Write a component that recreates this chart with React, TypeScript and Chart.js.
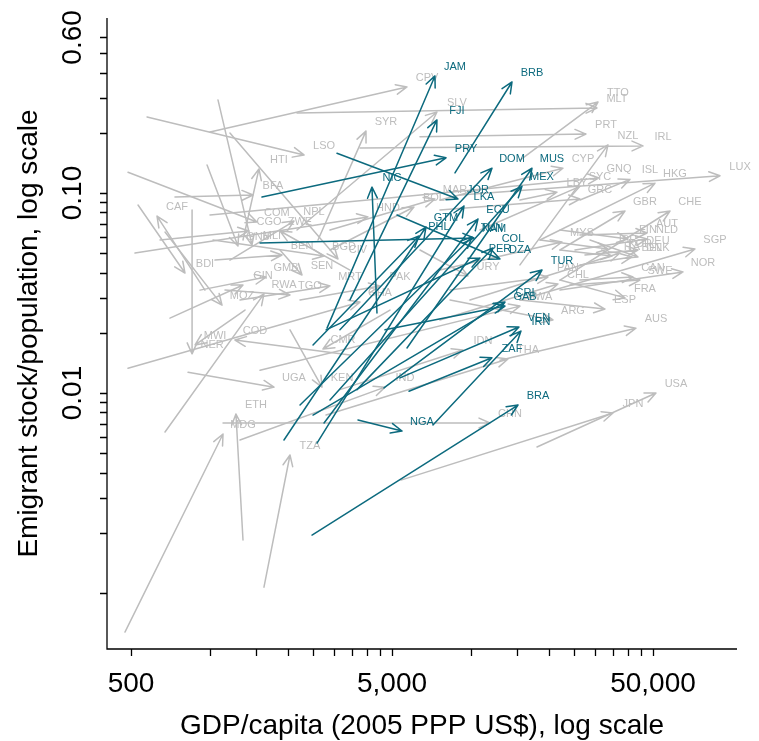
import React, { useEffect, useRef } from 'react';
import { Chart, registerables } from 'chart.js';

Chart.register(...registerables);

// ---- Highlighted (teal) countries ----
const tealCodes = ['JAM','BRB','FJI','PRY','NIC','DOM','MUS','MEX','JOR','LKA','ECU','GTM','PHL','TUN','NAM','COL','PER','DZA','TUR','CRI','GAB','VEN','IRN','ZAF','NGA','BRA'];
const tealGdpFrom = [2818, 8714, 3451, 1588, 4379, 3159, 5707, 2893, 3077, 2580, 2745, 1928, 2491, 2221, 1561, 3672, 2794, 5224, 4658, 2491, 4700, 5364, 7177, 5808, 3704, 2469];
const tealGdpTo = [7304, 14412, 7434, 8052, 4190, 12078, 17189, 15738, 8948, 9435, 10674, 6748, 6343, 10124, 10304, 12185, 10864, 12963, 18774, 13548, 13548, 15327, 15600, 12078, 5461, 15193];
const tealEmigFrom = [0.0211, 0.126, 0.0292, 0.0955, 0.0251, 0.0207, 0.0168, 0.00923, 0.158, 0.00562, 0.00708, 0.00582, 0.0174, 0.00871, 0.0562, 0.0104, 0.0207, 0.0776, 0.0106, 0.00776, 0.0207, 0.0119, 0.00692, 0.0102, 0.00733, 0.00195];
const tealEmigTo = [0.385, 0.359, 0.232, 0.150, 0.107, 0.133, 0.133, 0.108, 0.0933, 0.0861, 0.0741, 0.0676, 0.0610, 0.0603, 0.0596, 0.0531, 0.0473, 0.0468, 0.0412, 0.0285, 0.0272, 0.0214, 0.0204, 0.0150, 0.00646, 0.00871];

// ---- Other (gray) countries ----
const grayCodes = ['CPV','SLV','TTO','MLT','SYR','PRT','NZL','IRL','LSO','HTI','CYP','GNQ','ISL','HKG','SYC','LUX','LBY','GRC','BFA','MAR','BOL','GBR','CHE','CAF','COM','NPL','CGO','ZWE','GNB','MLI','BEN','BGD','CIV','BDI','SGP','MYS','FIN','AUT','NLD','DEU','DNK','BEL','ITA','ISR','KOR','CAN','SWE','NOR','FRA','ESP','ARG','AUS','CHL','PAN','URY','BWA','THA','IDN','CHN','JPN','USA','UGA','KEN','IND','CMR','COD','MWI','NER','MOZ','GMB','SEN','GIN','RWA','TGO','MRT','PAK','GHA','HND','ETH','MDG','TZA'];
const grayGdpFrom = [1004, 2163, 15463, 2163, 2603, 6400, 15463, 3770, 576, 1343, 7633, 1004, 26252, 18447, 10864, 9107, 15463, 7633, 737, 2893, 2893, 22008, 22008, 960, 487, 1197, 646, 3451, 978, 1077, 1049, 1031, 1197, 532, 15463, 7633, 22008, 26252, 25119, 27438, 28673, 26252, 22008, 18447, 9947, 26252, 24038, 22008, 22008, 15463, 8341, 12963, 7633, 8341, 6400, 1561, 2794, 3159, 1126, 5412, 17965, 827, 2033, 1308, 4912, 3451, 1367, 857, 675, 919, 1861, 705, 675, 1146, 1308, 2221, 487, 518, 1343, 474, 1616];
const grayGdpTo = [5707, 7434, 30771, 30501, 3974, 27682, 33609, 45767, 2301, 1546, 22596, 31045, 40804, 50880, 26252, 90302, 21432, 26252, 1467, 7304, 6069, 39040, 58076, 629, 1519, 2106, 1416, 1861, 1285, 1454, 1895, 2745, 3104, 805, 72394, 22399, 40088, 47417, 47417, 43789, 43789, 41532, 34816, 33609, 37358, 41902, 44571, 65146, 39040, 32734, 20690, 43022, 21622, 19794, 9773, 15463, 13912, 9352, 11867, 35127, 51329, 1766, 2697, 4700, 2720, 1251, 880, 857, 1116, 1645, 2260, 1343, 1616, 2033, 2893, 4497, 3770, 4045, 1262, 1126, 2033];
const grayEmigFrom = [0.202, 0.0653, 0.146, 0.251, 0.0582, 0.191, 0.0437, 0.168, 0.240, 0.0582, 0.0923, 0.0776, 0.0923, 0.0582, 0.0653, 0.0977, 0.0923, 0.0822, 0.0955, 0.0653, 0.0519, 0.0519, 0.0367, 0.0327, 0.127, 0.0462, 0.0582, 0.0412, 0.138, 0.292, 0.0462, 0.0582, 0.1995, 0.0871, 0.0292, 0.0412, 0.0653, 0.0617, 0.0519, 0.0490, 0.0582, 0.0437, 0.0519, 0.0582, 0.0292, 0.0367, 0.0347, 0.0327, 0.0367, 0.0292, 0.0292, 0.0146, 0.0232, 0.0327, 0.0519, 0.0130, 0.00776, 0.0104, 0.00708, 0.00367, 0.00537, 0.0127, 0.0207, 0.00582, 0.0260, 0.0155, 0.0260, 0.0822, 0.0638, 0.0327, 0.0519, 0.0237, 0.00638, 0.0327, 0.0292, 0.0292, 0.0133, 0.0501, 0.00184, 0.000638, 0.00107];
const grayEmigTo = [0.339, 0.254, 0.285, 0.266, 0.204, 0.197, 0.174, 0.172, 0.155, 0.132, 0.133, 0.119, 0.117, 0.112, 0.108, 0.122, 0.101, 0.0933, 0.0977, 0.0933, 0.0851, 0.0813, 0.0813, 0.0767, 0.0716, 0.0724, 0.0646, 0.0646, 0.0543, 0.0550, 0.0490, 0.0484, 0.0468, 0.0398, 0.0525, 0.0569, 0.0589, 0.0631, 0.0589, 0.0519, 0.0479, 0.0479, 0.0484, 0.0525, 0.0501, 0.0380, 0.0367, 0.0403, 0.0299, 0.0263, 0.0232, 0.0211, 0.0351, 0.0380, 0.0385, 0.0272, 0.0148, 0.0164, 0.00708, 0.00794, 0.0100, 0.0107, 0.0107, 0.0107, 0.0166, 0.0184, 0.0174, 0.0157, 0.0275, 0.0380, 0.0389, 0.0347, 0.0313, 0.0309, 0.0343, 0.0343, 0.0285, 0.0759, 0.00785, 0.00624, 0.00490];

// ---- Axes ----
const xTickValues = [500, 1000, 1500, 2000, 2500, 3000, 3500, 4000, 4500, 5000, 10000, 15000, 20000, 25000, 30000, 35000, 40000, 45000, 50000];
const xLabelValues = [500, 5000, 50000];
const xLabelTexts = ['500', '5,000', '50,000'];
const yTickValues = [0.001, 0.002, 0.003, 0.004, 0.005, 0.006, 0.007, 0.008, 0.009, 0.01, 0.02, 0.03, 0.04, 0.05, 0.06, 0.07, 0.08, 0.09, 0.1, 0.2, 0.3, 0.4, 0.5, 0.6];
const yLabelValues = [0.01, 0.1, 0.6];
const yLabelTexts = ['0.01', '0.10', '0.60'];
const xTitle = 'GDP/capita (2005 PPP US$), log scale';
const yTitle = 'Emigrant stock/population, log scale';

const TEAL = '#0c6a7e';
const GRAY = '#bdbdbd';
const FONT = '"Liberation Sans", Arial, Helvetica, sans-serif';

function arrowsPlugin() {
  return {
    id: 'arrowsPlugin',
    afterDatasetsDraw(chart: any) {
      const ctx = chart.ctx as CanvasRenderingContext2D;
      const xs = chart.scales.x;
      const ys = chart.scales.y;
      const area = chart.chartArea;

      const drawArrows = (g1: number[], e1: number[], g2: number[], e2: number[], color: string) => {
        ctx.save();
        ctx.strokeStyle = color;
        ctx.lineWidth = 1.5;
        ctx.lineCap = 'round';
        ctx.lineJoin = 'round';
        for (let i = 0; i < g1.length; i++) {
          const x1 = xs.getPixelForValue(g1[i]);
          const y1 = ys.getPixelForValue(e1[i]);
          const x2 = xs.getPixelForValue(g2[i]);
          const y2 = ys.getPixelForValue(e2[i]);
          const ang = Math.atan2(y2 - y1, x2 - x1);
          const L = 12;
          const a = 0.42;
          ctx.beginPath();
          ctx.moveTo(x1, y1);
          ctx.lineTo(x2, y2);
          ctx.moveTo(x2 - L * Math.cos(ang - a), y2 - L * Math.sin(ang - a));
          ctx.lineTo(x2, y2);
          ctx.lineTo(x2 - L * Math.cos(ang + a), y2 - L * Math.sin(ang + a));
          ctx.stroke();
        }
        ctx.restore();
      };
      const drawLabels = (codes: string[], g2: number[], e2: number[], color: string) => {
        ctx.save();
        ctx.fillStyle = color;
        ctx.font = `11px ${FONT}`;
        ctx.textAlign = 'center';
        ctx.textBaseline = 'middle';
        for (let i = 0; i < codes.length; i++) {
          const x2 = xs.getPixelForValue(g2[i]);
          const y2 = ys.getPixelForValue(e2[i]);
          ctx.fillText(codes[i], x2 + 20, y2 - 9);
        }
        ctx.restore();
      };

      drawArrows(grayGdpFrom, grayEmigFrom, grayGdpTo, grayEmigTo, GRAY);
      drawLabels(grayCodes, grayGdpTo, grayEmigTo, GRAY);
      drawArrows(tealGdpFrom, tealEmigFrom, tealGdpTo, tealEmigTo, TEAL);
      drawLabels(tealCodes, tealGdpTo, tealEmigTo, TEAL);

      // R-style "L" box with axes
      ctx.save();
      ctx.strokeStyle = '#000';
      ctx.lineWidth = 1.3;
      ctx.beginPath();
      ctx.moveTo(area.left, area.top);
      ctx.lineTo(area.left, area.bottom);
      ctx.lineTo(area.right, area.bottom);
      ctx.stroke();

      ctx.beginPath();
      for (const v of xTickValues) {
        const x = Math.round(xs.getPixelForValue(v)) + 0.5;
        ctx.moveTo(x, area.bottom);
        ctx.lineTo(x, area.bottom + 7);
      }
      for (const v of yTickValues) {
        const y = Math.round(ys.getPixelForValue(v)) + 0.5;
        ctx.moveTo(area.left, y);
        ctx.lineTo(area.left - 7, y);
      }
      ctx.stroke();

      ctx.fillStyle = '#000';
      ctx.font = `28px ${FONT}`;
      ctx.textAlign = 'center';
      ctx.textBaseline = 'middle';
      xLabelValues.forEach((v, i) => {
        ctx.fillText(xLabelTexts[i], xs.getPixelForValue(v), 684);
      });
      yLabelValues.forEach((v, i) => {
        const y = ys.getPixelForValue(v);
        ctx.save();
        ctx.translate(73, y);
        ctx.rotate(-Math.PI / 2);
        ctx.fillText(yLabelTexts[i], 0, 0);
        ctx.restore();
      });
      ctx.fillText(xTitle, (area.left + area.right) / 2, 726);
      ctx.save();
      ctx.translate(29, (area.top + area.bottom) / 2);
      ctx.rotate(-Math.PI / 2);
      ctx.fillText(yTitle, 0, 0);
      ctx.restore();
      ctx.restore();
    },
  };
}

export default function App() {
  const ref = useRef<HTMLCanvasElement | null>(null);
  useEffect(() => {
    if (!ref.current) return;
    const toPoints = (g: number[], e: number[]) => g.map((v, i) => ({ x: v, y: e[i] }));
    const chart = new Chart(ref.current, {
      type: 'scatter',
      data: {
        datasets: [
          { label: 'other from', data: toPoints(grayGdpFrom, grayEmigFrom), pointRadius: 0 },
          { label: 'other to', data: toPoints(grayGdpTo, grayEmigTo), pointRadius: 0 },
          { label: 'highlighted from', data: toPoints(tealGdpFrom, tealEmigFrom), pointRadius: 0 },
          { label: 'highlighted to', data: toPoints(tealGdpTo, tealEmigTo), pointRadius: 0 },
        ],
      },
      options: {
        responsive: false,
        animation: false,
        devicePixelRatio: 1,
        events: [],
        layout: { padding: { left: 107, right: 22, top: 18, bottom: 92 } },
        plugins: { legend: { display: false }, tooltip: { enabled: false } },
        scales: {
          x: { type: 'logarithmic', display: false, min: 404.6, max: 104900, bounds: 'data' },
          y: { type: 'logarithmic', display: false, min: 0.000525, max: 0.75, bounds: 'data' },
        },
      },
      plugins: [arrowsPlugin()],
    });
    return () => chart.destroy();
  }, []);
  return (
    <div style={{ position: 'fixed', left: 0, top: 0, width: 759, height: 741, background: '#fff' }}>
      <canvas ref={ref} width={759} height={741} style={{ display: 'block' }} />
    </div>
  );
}
